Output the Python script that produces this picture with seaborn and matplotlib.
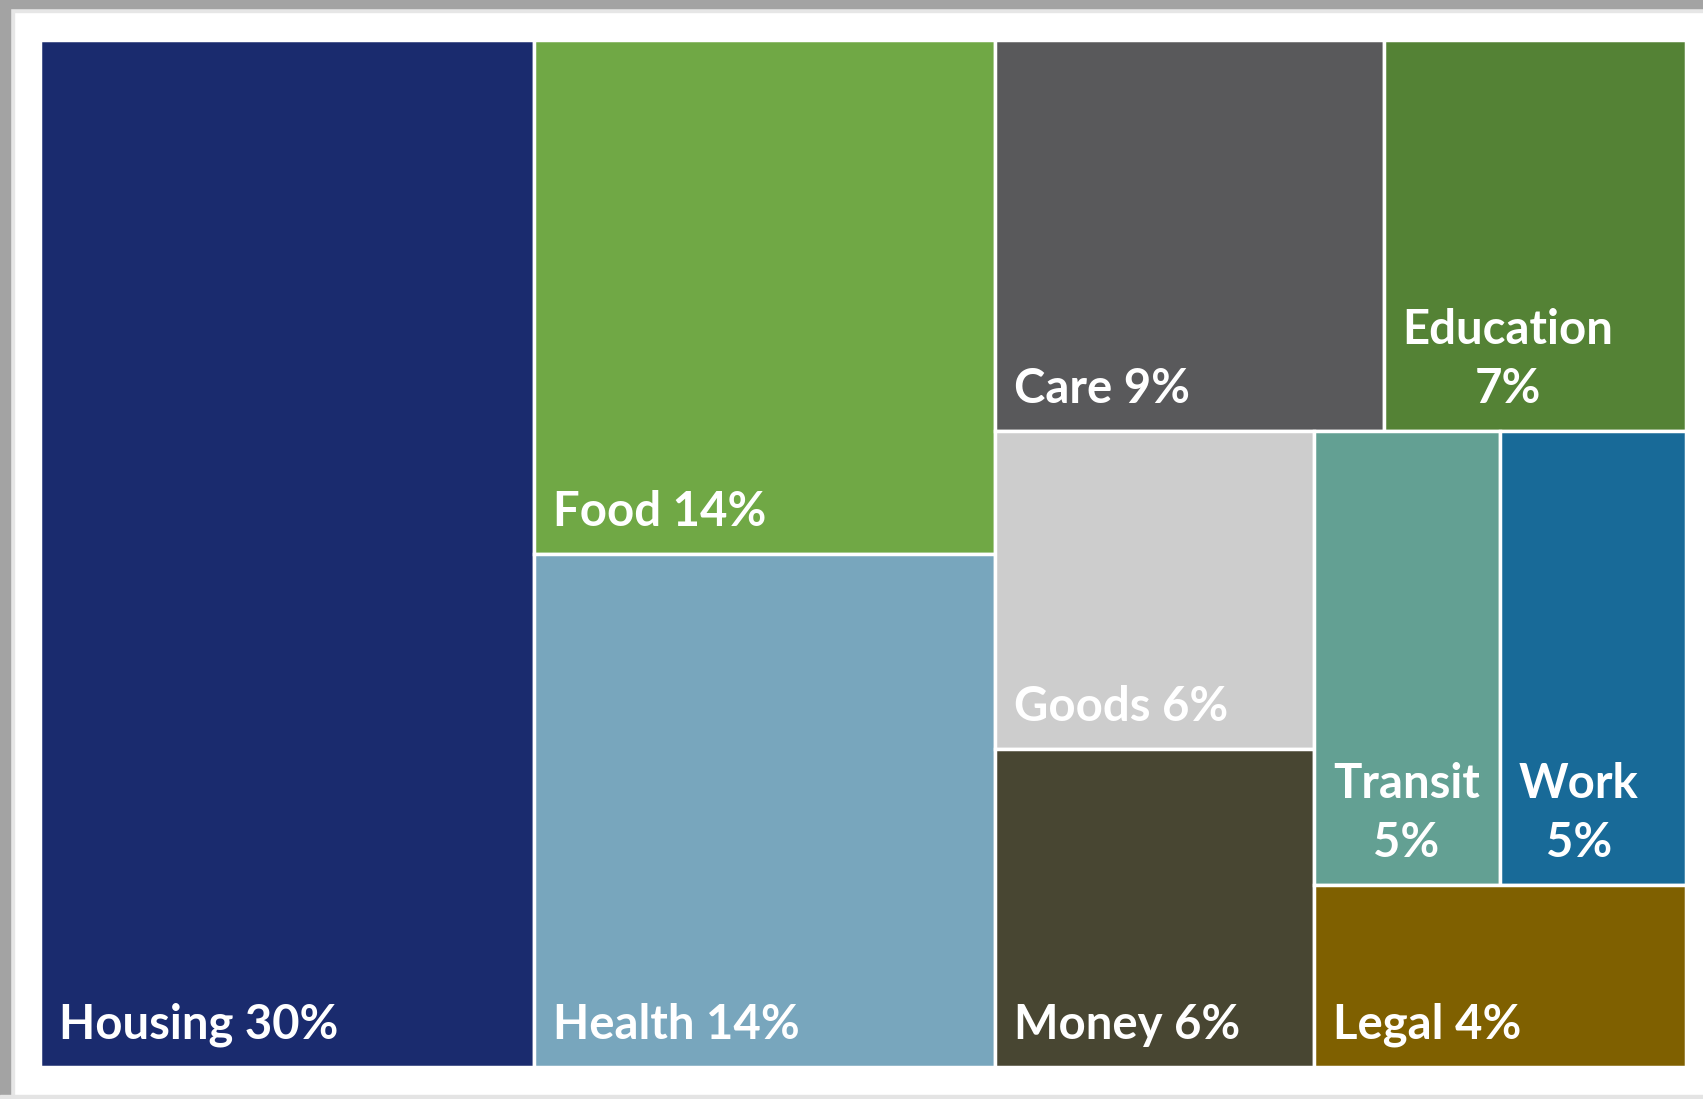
import matplotlib
matplotlib.use("Agg")
import matplotlib.pyplot as plt
from matplotlib.patches import Rectangle
import seaborn as sns

# Spending shares (percent)
names = ["Housing", "Food", "Health", "Care", "Education",
         "Goods", "Money", "Transit", "Work", "Legal"]
values = [30, 14, 14, 9, 7, 6, 6, 5, 5, 4]
colors = ["#1a2b6e", "#70a845", "#78a6bd", "#59595b", "#548235",
          "#cdcdcd", "#484632", "#63a093", "#186a98", "#7f6000"]

# how the cells are nested: "h" = side by side, "v" = stacked
groups = ("h", [0, ("v", [1, 2]),
                ("v", [("h", [3, 4]),
                       ("h", [("v", [5, 6]),
                              ("v", [("h", [7, 8]), 9])])])])


def total(node):
    if isinstance(node, int):
        return values[node]
    return sum(total(c) for c in node[1])


def layout(node, x, y, w, h, out):
    if isinstance(node, int):
        out[node] = (x, y, w, h)
        return
    kind, kids = node
    s = total(node)
    for k in kids:
        f = total(k) / s
        if kind == "h":
            layout(k, x, y, w * f, h, out)
            x += w * f
        else:
            layout(k, x, y, w, h * f, out)
            y += h * f


cells = {}
layout(groups, 0, 0, 1, 1, cells)
lefts = [cells[i][0] for i in range(len(names))]
tops = [cells[i][1] for i in range(len(names))]
widths = [cells[i][2] for i in range(len(names))]
heights = [cells[i][3] for i in range(len(names))]

sns.set_theme(style="white")
plt.rcParams["font.family"] = ["Lato", "DejaVu Sans"]

fig = plt.figure(figsize=(17.03, 10.99), dpi=100, facecolor="white")
ax = fig.add_axes([40 / 1703, 1 - 1067 / 1099, 1646 / 1703, 1027 / 1099])

ax.bar(lefts, heights, width=widths, bottom=tops, align="edge",
       color=colors, edgecolor="white", linewidth=2.5)
ax.set_xlim(0, 1)
ax.set_ylim(1, 0)
ax.axis("off")

# window frame look
fig.add_artist(Rectangle((0, 1 - 12 / 1099), 1, 12 / 1099, transform=fig.transFigure,
                         color="#e6e6e6", zorder=0))
fig.add_artist(Rectangle((0, 1 - 8 / 1099), 1, 8 / 1099, transform=fig.transFigure,
                         color="#a3a3a3"))
fig.add_artist(Rectangle((0, 0), 14 / 1703, 1, transform=fig.transFigure,
                         color="#e6e6e6", zorder=0))
fig.add_artist(Rectangle((0, 0), 10 / 1703, 1, transform=fig.transFigure,
                         color="#a3a3a3"))
fig.add_artist(Rectangle((0, 0), 1, 4 / 1099, transform=fig.transFigure,
                         color="#e4e4e4"))

renderer = fig.canvas.get_renderer()
pad = 19
for i, name in enumerate(names):
    x0, y0, w, h = cells[i]
    t = ax.annotate(f"{name} {values[i]}%", (x0, y0 + h), xytext=(pad, 20),
                    textcoords="offset pixels", ha="left", va="bottom",
                    multialignment="center", linespacing=1.42, color="white",
                    fontsize=34, fontweight="bold")
    cell_px = ax.transData.transform((x0 + w, 0))[0] - ax.transData.transform((x0, 0))[0]
    if t.get_window_extent(renderer).width > cell_px - 2 * pad:
        t.set_text(f"{name}\n{values[i]}%")

fig.savefig("out.png", dpi=100, facecolor="white")
